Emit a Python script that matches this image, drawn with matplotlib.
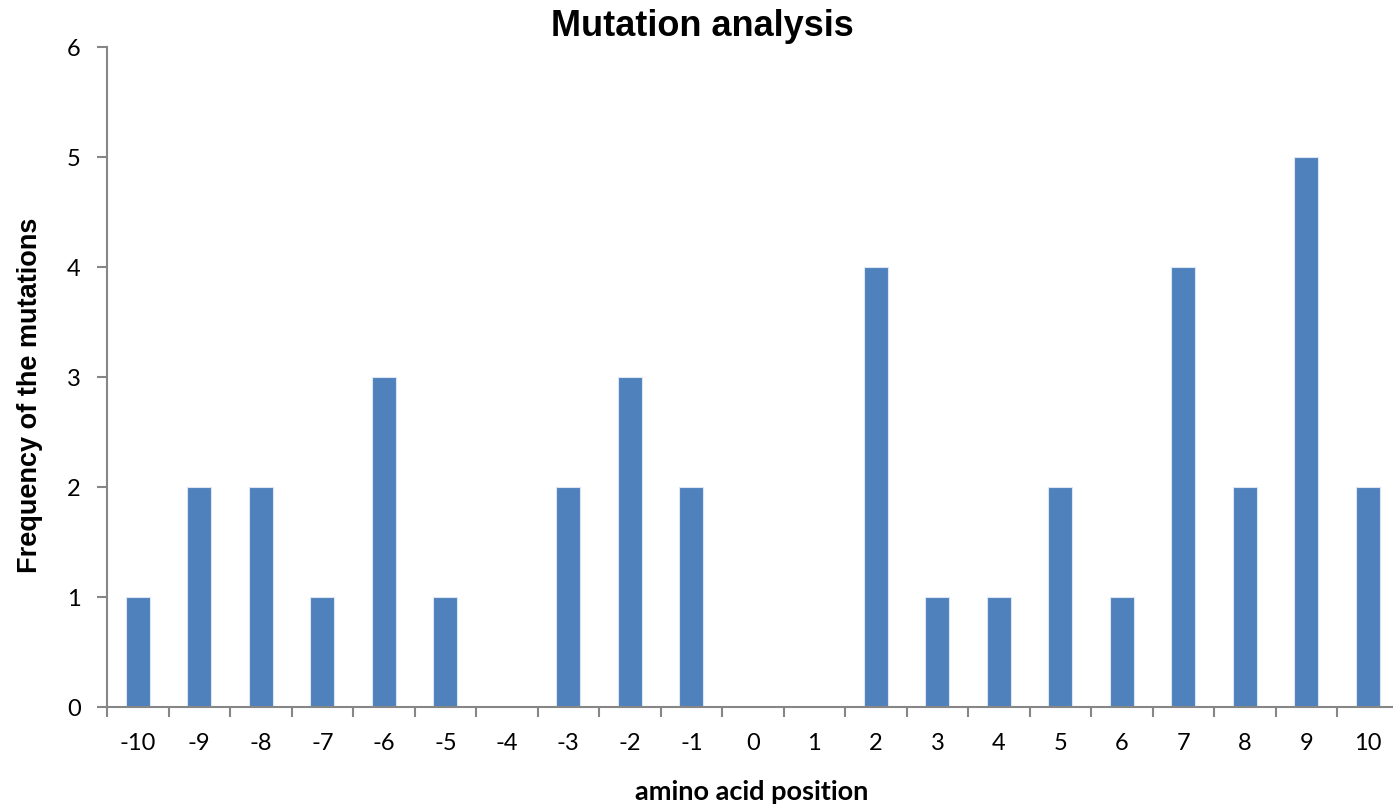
import matplotlib.pyplot as plt
import numpy as np

# mutation counts per amino acid position
positions = list(range(-10, 11))
frequency = [1, 2, 2, 1, 3, 1, 0, 2, 3, 2, 0, 0, 4, 1, 1, 2, 1, 4, 2, 5, 2]
y_ticks = [0, 1, 2, 3, 4, 5, 6]

plt.rcParams['font.family'] = ['Lato', 'DejaVu Sans']

fig = plt.figure(figsize=(13.93, 8.10), dpi=100)
ax = fig.add_axes([107 / 1393, 103 / 810, 1291.75 / 1393, 660 / 810])

x = np.arange(len(positions))
ax.bar(x, frequency, width=0.39, color='#4F81BD', edgecolor='#DCE6F2',
       linewidth=0.8, zorder=2)

ax.set_xlim(-0.5, len(positions) - 0.5)
ax.set_ylim(0, 6)
ax.set_yticks(y_ticks)
ax.set_yticklabels([str(v) for v in y_ticks])

# labels sit between the boundary ticks
ax.set_xticks(x)
ax.set_xticklabels([str(p) for p in positions])
ax.set_xticks(np.arange(-0.5, len(positions)), minor=True)
ax.tick_params(axis='x', which='major', length=0, pad=19, labelsize=17)
ax.tick_params(axis='x', which='minor', length=7, width=1.5, color='#868686',
               direction='out')
ax.tick_params(axis='y', length=7, width=1.5, color='#868686', direction='out',
               pad=12, labelsize=17)

for side in ['top', 'right']:
    ax.spines[side].set_visible(False)
for side in ['left', 'bottom']:
    ax.spines[side].set_color('#868686')
    ax.spines[side].set_linewidth(1.5)

fig.text(702 / 1393, 1 - 27 / 810, 'Mutation analysis', ha='center',
         va='center', fontsize=26, fontweight='bold',
         family=['Liberation Sans', 'DejaVu Sans'])
fig.text(30 / 1393, 1 - 395 / 810, 'Frequency of the mutations', ha='center',
         va='center', rotation=90, fontsize=19.5, fontweight='bold',
         family=['Liberation Sans', 'DejaVu Sans'])
fig.text(752 / 1393, 1 - 792 / 810, 'amino acid position', ha='center',
         va='center', fontsize=19.5, fontweight='bold')

fig.savefig('out.png', dpi=100)
